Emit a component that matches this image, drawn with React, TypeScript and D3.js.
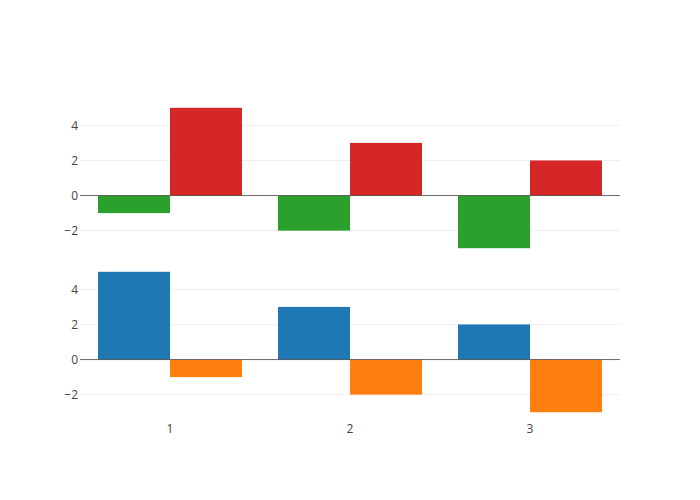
import React from "react";
import * as d3 from "d3";

const categories = ["1", "2", "3"];
const greenValues = [-1, -2, -3];
const redValues = [5, 3, 2];
const blueValues = [5, 3, 2];
const orangeValues = [-1, -2, -3];
const yTicks = [-2, 0, 2, 4];

const W = 700, H = 500;
const L = 80, R = 620, T = 100, B = 420;
const GAP = 8;
const panelH = (B - T - GAP) / 2;

export default function App() {
  const x = d3.scaleBand<string>().domain(categories).range([L, R]).paddingInner(0.2).paddingOuter(0.1);
  const yDomain: [number, number] = [-3.444, 5.444];
  const yTop = d3.scaleLinear().domain(yDomain).range([T + panelH, T]);
  const yBot = d3.scaleLinear().domain(yDomain).range([B, B - panelH]);
  const xc = d3.scaleBand<string>().domain(categories).range([L, R]);
  const bw = x.bandwidth() / 2;

  const panels = [
    { y: yTop, series: [{ v: greenValues, c: "#2ca02c" }, { v: redValues, c: "#d62728" }] },
    { y: yBot, series: [{ v: blueValues, c: "#1f77b4" }, { v: orangeValues, c: "#ff7f0e" }] },
  ];
  const fmt = (t: number) => (t < 0 ? "\u2212" + Math.abs(t) : String(t));

  return (
    <svg width={W} height={H} style={{ display: "block", background: "#fff", position: "absolute", left: 0, top: 0 }} fontFamily="'Open Sans', sans-serif">
      {panels.map((p, pi) => (
        <g key={pi}>
          {yTicks.filter((t) => t !== 0).map((t) => (
            <line key={t} x1={L} x2={R} y1={p.y(t)} y2={p.y(t)} stroke="#eee" strokeWidth={1} />
          ))}
          {p.series.map((s, si) =>
            s.v.map((v, i) => {
              const x0 = (x(categories[i]) as number) + si * bw;
              const y0 = p.y(Math.max(0, v));
              const y1 = p.y(Math.min(0, v));
              return <rect key={si + "-" + i} x={x0} y={y0} width={bw} height={y1 - y0} fill={s.c} />;
            })
          )}
          <line x1={L} x2={R} y1={p.y(0)} y2={p.y(0)} stroke="#444" strokeOpacity={0.8} strokeWidth={1} />
          {yTicks.map((t) => (
            <text key={t} x={L - 2} y={p.y(t)} dy="0.35em" textAnchor="end" fontSize={12} fill="#444">
              {fmt(t)}
            </text>
          ))}
        </g>
      ))}
      {categories.map((c) => (
        <text key={c} x={(xc(c) as number) + xc.bandwidth() / 2} y={B + 13} textAnchor="middle" fontSize={12} fill="#444">
          {c}
        </text>
      ))}
    </svg>
  );
}
